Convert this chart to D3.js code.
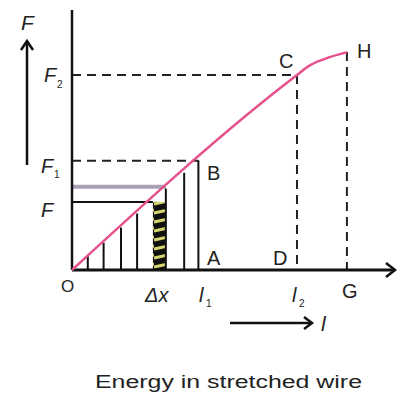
<!DOCTYPE html>
<html><head><meta charset="utf-8">
<script src="https://cdn.jsdelivr.net/npm/d3@7"></script>
<style>body{margin:0;background:#fff}svg{display:block}text{font-family:"Liberation Sans",Arial,sans-serif;fill:#222}</style>
</head><body><svg id="c" width="401" height="398"></svg>
<script>
// data (arbitrary units)
const curve = [[0,0],[7.12,7.5],[7.5,7.85],[8.0,8.12],[8.7,8.38]];
const stripX = [0.5,1.0,1.55,2.06,2.97,3.55];   // thin strips under curve
const hatch = [2.56, 2.97];                     // Δx strip
const l1 = 4.0, l2 = 7.12, gX = 8.7;
const F1 = 4.2, F2 = 7.5, Fv = 2.62, Fgray = 3.2, H = 8.38;
const title = "Energy in stretched wire";

const svg = d3.select("#c");
const x = d3.scaleLinear().domain([0,10]).range([72,388]);
const y = d3.scaleLinear().domain([0,10]).range([270,10]);
const yOn = v => {
  for (let i=1;i<curve.length;i++){ if (v<=curve[i][0]){const a=curve[i-1],b=curve[i];return a[1]+(b[1]-a[1])*(v-a[0])/(b[0]-a[0]);} }
  return curve[curve.length-1][1];
};
const defs = svg.append("defs");
const pat = defs.append("pattern").attr("id","hp").attr("patternUnits","userSpaceOnUse").attr("width",14).attr("height",9);
pat.append("rect").attr("width",14).attr("height",9).attr("fill","#111");
pat.append("path").attr("d","M0,6 L14,3").attr("stroke","#d9d870").attr("stroke-width",3);

const dash = {stroke:"#222","stroke-width":2,"stroke-dasharray":"9,6"};
function line(x1,y1,x2,y2,st){const l=svg.append("line").attr("x1",x1).attr("y1",y1).attr("x2",x2).attr("y2",y2);for(const k in st)l.attr(k,st[k]);return l;}
line(x(0),y(F2),x(l2),y(F2),dash);
line(x(0),y(F1),x(l1),y(F1),dash);
line(x(l2),y(F2),x(l2),y(0),dash);
line(x(gX),y(H),x(gX),y(0),dash);

// gray line & F line
line(x(0),y(Fgray),x(Fgray*l2/7.5)-2,y(Fgray),{stroke:"#aaa2b4","stroke-width":4});
line(x(0),y(Fv),x(hatch[0]),y(Fv),{stroke:"#111","stroke-width":2});

// hatched strip
svg.append("rect").attr("x",x(hatch[0])).attr("y",y(Fv)).attr("width",x(hatch[1])-x(hatch[0])).attr("height",y(0)-y(Fv)).attr("fill","url(#hp)");

// strips
stripX.forEach(v=>line(x(v),y(0),x(v),y(yOn(v)),{stroke:"#111","stroke-width":2}));
line(x(l1),y(0),x(l1),y(yOn(l1)),{stroke:"#111","stroke-width":2});

// axes
line(x(0),y(0),x(0),10,{stroke:"#111","stroke-width":2.5});
line(x(0),y(0),395,y(0),{stroke:"#111","stroke-width":3});
svg.append("path").attr("d",`M386,${y(0)-7} L395,${y(0)} L386,${y(0)+7}`).attr("fill","none").attr("stroke","#111").attr("stroke-width",2.5);
// F arrow
line(27,165,27,42,{stroke:"#111","stroke-width":2.5});
svg.append("path").attr("d","M21,50 L27,41 L33,50").attr("fill","none").attr("stroke","#111").attr("stroke-width",2.5);
// l arrow
line(230,323,311,323,{stroke:"#111","stroke-width":2.5});
svg.append("path").attr("d","M304,317 L312,323 L304,329").attr("fill","none").attr("stroke","#111").attr("stroke-width",2.5);

// curve
svg.append("path").datum(curve).attr("d",d3.line().x(d=>x(d[0])).y(d=>y(d[1])).curve(d3.curveMonotoneX))
  .attr("fill","none").attr("stroke","#e6508c").attr("stroke-width",2.5);

// labels
function t(xx,yy,s,o={}){const e=svg.append("text").attr("x",xx).attr("y",yy).text(s).attr("font-size",o.size||20);if(o.it)e.attr("font-style","italic");if(o.anchor)e.attr("text-anchor",o.anchor);return e;}
t(21,30,"F",{it:1,size:21});
t(44,82,"F",{it:1});t(57,88,"2",{size:10});
t(41,173,"F",{it:1});t(54,178,"1",{size:10});
t(41,217,"F",{it:1});
t(207,180,"B");t(279,68,"C");t(357,58,"H");
t(207,265,"A");t(273,265,"D");
t(61,292,"O",{size:17});t(145,302,"Δx",{it:1});
t(199,302,"l",{it:1});t(206,307,"1",{size:10});
t(292,302,"l",{it:1});t(299,307,"2",{size:10});
t(342,298,"G");
t(321,331,"l",{it:1,size:21});
t(95,388,title,{size:18}).attr("textLength",267).attr("lengthAdjust","spacingAndGlyphs");
</script></body></html>
